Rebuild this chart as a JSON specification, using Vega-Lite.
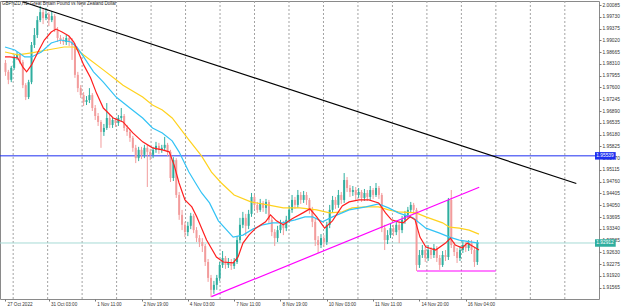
{
  "$schema": "https://vega.github.io/schema/vega-lite/v6.json",
  "width": 599,
  "height": 298,
  "autosize": {"type": "none"},
  "padding": {"left": 0, "top": 1, "right": 26, "bottom": 9},
  "background": "#ffffff",
  "config": {
    "view": {"stroke": "#8a8a8a", "strokeWidth": 1},
    "font": "Liberation Sans",
    "axis": {"labelOverlap": false, "labelSeparation": 0, "labelFlush": false}
  },
  "title": {
    "text": "GBPNZD,H1:  Great Britain Pound vs New Zealand Dollar",
    "anchor": "start",
    "frame": "group",
    "orient": "top",
    "offset": -6,
    "fontSize": 4.5,
    "fontWeight": "normal",
    "font": "Liberation Sans",
    "color": "#222222",
    "dx": 2
  },
  "datasets": {
    "grid": [
      {"t": 6.32}, {"t": 30.14}, {"t": 53.96}, {"t": 77.78}, {"t": 101.6}, {"t": 125.42},
      {"t": 149.24}, {"t": 173.06}, {"t": 196.88}, {"t": 220.7}, {"t": 244.52}, {"t": 268.34},
      {"t": 292.16}, {"t": 315.98}, {"t": 339.8}, {"t": 363.62}, {"t": 387.44}
    ],
    "levels": [
      {"p": 1.95539, "kind": "level", "lbl": "1.95539"},
      {"p": 1.92912, "kind": "bid", "lbl": "1.92912"}
    ],
    "candles": [
      {"t":1,"o":1.9834,"h":1.9843,"l":1.9795,"c":1.9807},
      {"t":3,"o":1.9807,"h":1.9813,"l":1.9770,"c":1.9783},
      {"t":5,"o":1.9783,"h":1.9825,"l":1.9776,"c":1.9819},
      {"t":7,"o":1.9819,"h":1.9858,"l":1.9813,"c":1.9849},
      {"t":9,"o":1.9849,"h":1.9867,"l":1.9843,"c":1.9858},
      {"t":11,"o":1.9858,"h":1.9864,"l":1.9831,"c":1.9837},
      {"t":13,"o":1.9837,"h":1.9843,"l":1.9758,"c":1.9767},
      {"t":15,"o":1.9767,"h":1.9773,"l":1.9722,"c":1.9731},
      {"t":17,"o":1.9731,"h":1.9783,"l":1.9725,"c":1.9776},
      {"t":19,"o":1.9776,"h":1.9897,"l":1.9770,"c":1.9888},
      {"t":21,"o":1.9888,"h":1.9939,"l":1.9879,"c":1.9918},
      {"t":23,"o":1.9918,"h":1.9975,"l":1.9909,"c":1.9963},
      {"t":25,"o":1.9963,"h":2.0006,"l":1.9957,"c":1.9987},
      {"t":27,"o":1.9987,"h":1.9997,"l":1.9951,"c":1.9969},
      {"t":29,"o":1.9969,"h":2.0000,"l":1.9963,"c":1.9981},
      {"t":31,"o":1.9981,"h":1.9987,"l":1.9945,"c":1.9963},
      {"t":33,"o":1.9963,"h":1.9990,"l":1.9957,"c":1.9975},
      {"t":35,"o":1.9975,"h":1.9981,"l":1.9927,"c":1.9933},
      {"t":37,"o":1.9933,"h":1.9942,"l":1.9897,"c":1.9909},
      {"t":39,"o":1.9909,"h":1.9918,"l":1.9891,"c":1.9903},
      {"t":41,"o":1.9903,"h":1.9912,"l":1.9888,"c":1.9897},
      {"t":43,"o":1.9897,"h":1.9918,"l":1.9888,"c":1.9909},
      {"t":45,"o":1.9909,"h":1.9915,"l":1.9885,"c":1.9897},
      {"t":47,"o":1.9897,"h":1.9909,"l":1.9843,"c":1.9888},
      {"t":49,"o":1.9888,"h":1.9894,"l":1.9789,"c":1.9798},
      {"t":51,"o":1.9798,"h":1.9807,"l":1.9746,"c":1.9758},
      {"t":53,"o":1.9758,"h":1.9767,"l":1.9728,"c":1.9737},
      {"t":55,"o":1.9737,"h":1.9746,"l":1.9704,"c":1.9716},
      {"t":57,"o":1.9716,"h":1.9734,"l":1.9707,"c":1.9722},
      {"t":59,"o":1.9722,"h":1.9758,"l":1.9713,"c":1.9737},
      {"t":61,"o":1.9737,"h":1.9743,"l":1.9689,"c":1.9698},
      {"t":63,"o":1.9698,"h":1.9707,"l":1.9662,"c":1.9674},
      {"t":65,"o":1.9674,"h":1.9683,"l":1.9644,"c":1.9656},
      {"t":67,"o":1.9656,"h":1.9662,"l":1.9578,"c":1.9626},
      {"t":69,"o":1.9626,"h":1.9650,"l":1.9614,"c":1.9638},
      {"t":71,"o":1.9638,"h":1.9713,"l":1.9632,"c":1.9668},
      {"t":73,"o":1.9668,"h":1.9677,"l":1.9638,"c":1.9647},
      {"t":75,"o":1.9647,"h":1.9671,"l":1.9638,"c":1.9662},
      {"t":77,"o":1.9662,"h":1.9668,"l":1.9641,"c":1.9653},
      {"t":79,"o":1.9653,"h":1.9677,"l":1.9644,"c":1.9668},
      {"t":81,"o":1.9668,"h":1.9698,"l":1.9659,"c":1.9674},
      {"t":83,"o":1.9674,"h":1.9680,"l":1.9629,"c":1.9638},
      {"t":85,"o":1.9638,"h":1.9647,"l":1.9614,"c":1.9626},
      {"t":87,"o":1.9626,"h":1.9635,"l":1.9596,"c":1.9608},
      {"t":89,"o":1.9608,"h":1.9614,"l":1.9566,"c":1.9578},
      {"t":91,"o":1.9578,"h":1.9587,"l":1.9532,"c":1.9547},
      {"t":93,"o":1.9547,"h":1.9581,"l":1.9538,"c":1.9572},
      {"t":95,"o":1.9572,"h":1.9581,"l":1.9544,"c":1.9557},
      {"t":97,"o":1.9557,"h":1.9587,"l":1.9547,"c":1.9578},
      {"t":99,"o":1.9578,"h":1.9587,"l":1.9460,"c":1.9566},
      {"t":101,"o":1.9566,"h":1.9575,"l":1.9541,"c":1.9557},
      {"t":103,"o":1.9557,"h":1.9581,"l":1.9547,"c":1.9572},
      {"t":105,"o":1.9572,"h":1.9596,"l":1.9563,"c":1.9584},
      {"t":107,"o":1.9584,"h":1.9593,"l":1.9560,"c":1.9572},
      {"t":109,"o":1.9572,"h":1.9587,"l":1.9563,"c":1.9578},
      {"t":111,"o":1.9578,"h":1.9611,"l":1.9569,"c":1.9587},
      {"t":113,"o":1.9587,"h":1.9593,"l":1.9553,"c":1.9566},
      {"t":115,"o":1.9566,"h":1.9572,"l":1.9475,"c":1.9487},
      {"t":117,"o":1.9487,"h":1.9550,"l":1.9478,"c":1.9541},
      {"t":119,"o":1.9541,"h":1.9547,"l":1.9427,"c":1.9436},
      {"t":121,"o":1.9436,"h":1.9445,"l":1.9361,"c":1.9376},
      {"t":123,"o":1.9376,"h":1.9391,"l":1.9330,"c":1.9346},
      {"t":125,"o":1.9346,"h":1.9355,"l":1.9309,"c":1.9324},
      {"t":127,"o":1.9324,"h":1.9355,"l":1.9312,"c":1.9343},
      {"t":129,"o":1.9343,"h":1.9382,"l":1.9333,"c":1.9373},
      {"t":131,"o":1.9373,"h":1.9379,"l":1.9321,"c":1.9330},
      {"t":133,"o":1.9330,"h":1.9339,"l":1.9294,"c":1.9306},
      {"t":135,"o":1.9306,"h":1.9315,"l":1.9279,"c":1.9294},
      {"t":137,"o":1.9294,"h":1.9306,"l":1.9264,"c":1.9282},
      {"t":139,"o":1.9282,"h":1.9288,"l":1.9222,"c":1.9234},
      {"t":141,"o":1.9234,"h":1.9243,"l":1.9174,"c":1.9186},
      {"t":143,"o":1.9186,"h":1.9195,"l":1.9128,"c":1.9150},
      {"t":145,"o":1.9150,"h":1.9177,"l":1.9138,"c":1.9165},
      {"t":147,"o":1.9165,"h":1.9195,"l":1.9150,"c":1.9186},
      {"t":149,"o":1.9186,"h":1.9234,"l":1.9177,"c":1.9225},
      {"t":151,"o":1.9225,"h":1.9267,"l":1.9216,"c":1.9246},
      {"t":153,"o":1.9246,"h":1.9252,"l":1.9213,"c":1.9225},
      {"t":155,"o":1.9225,"h":1.9246,"l":1.9216,"c":1.9234},
      {"t":157,"o":1.9234,"h":1.9243,"l":1.9210,"c":1.9222},
      {"t":159,"o":1.9222,"h":1.9246,"l":1.9213,"c":1.9234},
      {"t":161,"o":1.9234,"h":1.9312,"l":1.9228,"c":1.9300},
      {"t":163,"o":1.9300,"h":1.9367,"l":1.9291,"c":1.9346},
      {"t":165,"o":1.9346,"h":1.9385,"l":1.9336,"c":1.9367},
      {"t":167,"o":1.9367,"h":1.9379,"l":1.9312,"c":1.9343},
      {"t":169,"o":1.9343,"h":1.9391,"l":1.9333,"c":1.9379},
      {"t":171,"o":1.9379,"h":1.9442,"l":1.9370,"c":1.9430},
      {"t":173,"o":1.9430,"h":1.9436,"l":1.9394,"c":1.9406},
      {"t":175,"o":1.9406,"h":1.9415,"l":1.9382,"c":1.9391},
      {"t":177,"o":1.9391,"h":1.9424,"l":1.9385,"c":1.9412},
      {"t":179,"o":1.9412,"h":1.9418,"l":1.9385,"c":1.9397},
      {"t":181,"o":1.9397,"h":1.9424,"l":1.9379,"c":1.9415},
      {"t":183,"o":1.9415,"h":1.9421,"l":1.9349,"c":1.9361},
      {"t":185,"o":1.9361,"h":1.9370,"l":1.9312,"c":1.9324},
      {"t":187,"o":1.9324,"h":1.9333,"l":1.9282,"c":1.9306},
      {"t":189,"o":1.9306,"h":1.9343,"l":1.9294,"c":1.9330},
      {"t":191,"o":1.9330,"h":1.9361,"l":1.9321,"c":1.9346},
      {"t":193,"o":1.9346,"h":1.9358,"l":1.9315,"c":1.9336},
      {"t":195,"o":1.9336,"h":1.9373,"l":1.9327,"c":1.9361},
      {"t":197,"o":1.9361,"h":1.9403,"l":1.9352,"c":1.9391},
      {"t":199,"o":1.9391,"h":1.9436,"l":1.9382,"c":1.9421},
      {"t":201,"o":1.9421,"h":1.9430,"l":1.9394,"c":1.9406},
      {"t":203,"o":1.9406,"h":1.9451,"l":1.9397,"c":1.9436},
      {"t":205,"o":1.9436,"h":1.9445,"l":1.9409,"c":1.9421},
      {"t":207,"o":1.9421,"h":1.9448,"l":1.9412,"c":1.9436},
      {"t":209,"o":1.9436,"h":1.9445,"l":1.9406,"c":1.9421},
      {"t":211,"o":1.9421,"h":1.9427,"l":1.9379,"c":1.9391},
      {"t":213,"o":1.9391,"h":1.9400,"l":1.9339,"c":1.9355},
      {"t":215,"o":1.9355,"h":1.9364,"l":1.9282,"c":1.9300},
      {"t":217,"o":1.9300,"h":1.9312,"l":1.9261,"c":1.9285},
      {"t":219,"o":1.9285,"h":1.9318,"l":1.9276,"c":1.9306},
      {"t":221,"o":1.9306,"h":1.9315,"l":1.9279,"c":1.9294},
      {"t":223,"o":1.9294,"h":1.9355,"l":1.9285,"c":1.9346},
      {"t":225,"o":1.9346,"h":1.9406,"l":1.9336,"c":1.9391},
      {"t":227,"o":1.9391,"h":1.9433,"l":1.9382,"c":1.9421},
      {"t":229,"o":1.9421,"h":1.9430,"l":1.9394,"c":1.9406},
      {"t":231,"o":1.9406,"h":1.9451,"l":1.9397,"c":1.9436},
      {"t":233,"o":1.9436,"h":1.9445,"l":1.9409,"c":1.9421},
      {"t":235,"o":1.9421,"h":1.9502,"l":1.9412,"c":1.9481},
      {"t":237,"o":1.9481,"h":1.9490,"l":1.9445,"c":1.9457},
      {"t":239,"o":1.9457,"h":1.9466,"l":1.9430,"c":1.9445},
      {"t":241,"o":1.9445,"h":1.9463,"l":1.9433,"c":1.9451},
      {"t":243,"o":1.9451,"h":1.9460,"l":1.9421,"c":1.9436},
      {"t":245,"o":1.9436,"h":1.9457,"l":1.9427,"c":1.9445},
      {"t":247,"o":1.9445,"h":1.9451,"l":1.9415,"c":1.9427},
      {"t":249,"o":1.9427,"h":1.9454,"l":1.9418,"c":1.9442},
      {"t":251,"o":1.9442,"h":1.9451,"l":1.9418,"c":1.9430},
      {"t":253,"o":1.9430,"h":1.9463,"l":1.9421,"c":1.9451},
      {"t":255,"o":1.9451,"h":1.9457,"l":1.9424,"c":1.9436},
      {"t":257,"o":1.9436,"h":1.9472,"l":1.9430,"c":1.9457},
      {"t":259,"o":1.9457,"h":1.9463,"l":1.9424,"c":1.9436},
      {"t":261,"o":1.9436,"h":1.9442,"l":1.9324,"c":1.9336},
      {"t":263,"o":1.9336,"h":1.9346,"l":1.9270,"c":1.9300},
      {"t":265,"o":1.9300,"h":1.9330,"l":1.9288,"c":1.9315},
      {"t":267,"o":1.9315,"h":1.9349,"l":1.9306,"c":1.9336},
      {"t":269,"o":1.9336,"h":1.9346,"l":1.9312,"c":1.9324},
      {"t":271,"o":1.9324,"h":1.9358,"l":1.9315,"c":1.9346},
      {"t":273,"o":1.9346,"h":1.9355,"l":1.9291,"c":1.9330},
      {"t":275,"o":1.9330,"h":1.9373,"l":1.9321,"c":1.9361},
      {"t":277,"o":1.9361,"h":1.9388,"l":1.9349,"c":1.9376},
      {"t":279,"o":1.9376,"h":1.9400,"l":1.9367,"c":1.9391},
      {"t":281,"o":1.9391,"h":1.9415,"l":1.9382,"c":1.9406},
      {"t":283,"o":1.9406,"h":1.9412,"l":1.9379,"c":1.9391},
      {"t":285,"o":1.9391,"h":1.9397,"l":1.9207,"c":1.9225},
      {"t":287,"o":1.9225,"h":1.9270,"l":1.9216,"c":1.9255},
      {"t":289,"o":1.9255,"h":1.9285,"l":1.9246,"c":1.9270},
      {"t":291,"o":1.9270,"h":1.9279,"l":1.9234,"c":1.9246},
      {"t":293,"o":1.9246,"h":1.9285,"l":1.9237,"c":1.9270},
      {"t":295,"o":1.9270,"h":1.9279,"l":1.9243,"c":1.9255},
      {"t":297,"o":1.9255,"h":1.9288,"l":1.9246,"c":1.9276},
      {"t":299,"o":1.9276,"h":1.9282,"l":1.9234,"c":1.9246},
      {"t":301,"o":1.9246,"h":1.9255,"l":1.9210,"c":1.9225},
      {"t":303,"o":1.9225,"h":1.9267,"l":1.9219,"c":1.9255},
      {"t":305,"o":1.9255,"h":1.9270,"l":1.9237,"c":1.9249},
      {"t":307,"o":1.9249,"h":1.9427,"l":1.9240,"c":1.9421},
      {"t":309,"o":1.9421,"h":1.9451,"l":1.9276,"c":1.9285},
      {"t":311,"o":1.9285,"h":1.9294,"l":1.9252,"c":1.9264},
      {"t":313,"o":1.9264,"h":1.9276,"l":1.9231,"c":1.9246},
      {"t":315,"o":1.9246,"h":1.9282,"l":1.9237,"c":1.9270},
      {"t":317,"o":1.9270,"h":1.9297,"l":1.9261,"c":1.9285},
      {"t":319,"o":1.9285,"h":1.9294,"l":1.9264,"c":1.9276},
      {"t":321,"o":1.9276,"h":1.9300,"l":1.9267,"c":1.9291},
      {"t":323,"o":1.9291,"h":1.9300,"l":1.9258,"c":1.9270},
      {"t":325,"o":1.9270,"h":1.9279,"l":1.9219,"c":1.9234},
      {"t":327,"o":1.9234,"h":1.9300,"l":1.9225,"c":1.9291}
    ],
    "lines": [
      {"s":"slow","t":0.68,"v":1.9867},{"s":"slow","t":9.51,"v":1.9858},{"s":"slow","t":19.02,"v":1.9864},{"s":"slow","t":29.89,"v":1.9873},
      {"s":"slow","t":41.44,"v":1.9882},{"s":"slow","t":48.23,"v":1.9882},{"s":"slow","t":55.03,"v":1.9858},{"s":"slow","t":68.61,"v":1.9813},
      {"s":"slow","t":77.45,"v":1.9783},{"s":"slow","t":82.2,"v":1.9767},{"s":"slow","t":95.79,"v":1.9731},{"s":"slow","t":102.58,"v":1.9707},
      {"s":"slow","t":109.38,"v":1.9692},{"s":"slow","t":116.17,"v":1.9668},{"s":"slow","t":127.72,"v":1.9602},{"s":"slow","t":136.55,"v":1.9553},
      {"s":"slow","t":143.34,"v":1.9505},{"s":"slow","t":150.14,"v":1.9472},{"s":"slow","t":158.97,"v":1.9436},{"s":"slow","t":170.52,"v":1.9415},
      {"s":"slow","t":182.07,"v":1.9406},{"s":"slow","t":192.93,"v":1.9397},{"s":"slow","t":204.48,"v":1.9397},{"s":"slow","t":216.03,"v":1.9391},
      {"s":"slow","t":224.86,"v":1.9382},{"s":"slow","t":233.7,"v":1.9385},{"s":"slow","t":240.49,"v":1.9397},{"s":"slow","t":250.0,"v":1.9400},
      {"s":"slow","t":258.83,"v":1.9400},{"s":"slow","t":265.63,"v":1.9391},{"s":"slow","t":272.42,"v":1.9385},{"s":"slow","t":284.65,"v":1.9382},
      {"s":"slow","t":291.44,"v":1.9370},{"s":"slow","t":302.99,"v":1.9352},{"s":"slow","t":307.74,"v":1.9339},{"s":"slow","t":314.54,"v":1.9336},
      {"s":"slow","t":321.33,"v":1.9330},{"s":"slow","t":328.13,"v":1.9318},

      {"s":"mid","t":0.68,"v":1.9882},{"s":"mid","t":7.47,"v":1.9873},{"s":"mid","t":14.27,"v":1.9852},{"s":"mid","t":19.02,"v":1.9852},
      {"s":"mid","t":25.82,"v":1.9867},{"s":"mid","t":32.61,"v":1.9894},{"s":"mid","t":39.4,"v":1.9903},{"s":"mid","t":46.2,"v":1.9897},
      {"s":"mid","t":50.27,"v":1.9882},{"s":"mid","t":55.03,"v":1.9852},{"s":"mid","t":61.82,"v":1.9807},{"s":"mid","t":68.61,"v":1.9776},
      {"s":"mid","t":77.45,"v":1.9731},{"s":"mid","t":86.96,"v":1.9698},{"s":"mid","t":95.79,"v":1.9668},{"s":"mid","t":102.58,"v":1.9638},
      {"s":"mid","t":109.38,"v":1.9623},{"s":"mid","t":116.17,"v":1.9599},{"s":"mid","t":120.92,"v":1.9566},{"s":"mid","t":127.72,"v":1.9505},
      {"s":"mid","t":133.15,"v":1.9466},{"s":"mid","t":136.55,"v":1.9442},{"s":"mid","t":141.98,"v":1.9412},{"s":"mid","t":148.1,"v":1.9358},
      {"s":"mid","t":158.29,"v":1.9309},{"s":"mid","t":165.08,"v":1.9315},{"s":"mid","t":171.88,"v":1.9333},{"s":"mid","t":178.67,"v":1.9346},
      {"s":"mid","t":185.46,"v":1.9352},{"s":"mid","t":192.26,"v":1.9352},{"s":"mid","t":201.09,"v":1.9361},{"s":"mid","t":207.88,"v":1.9370},
      {"s":"mid","t":213.32,"v":1.9370},{"s":"mid","t":220.11,"v":1.9355},{"s":"mid","t":226.9,"v":1.9370},{"s":"mid","t":238.45,"v":1.9391},
      {"s":"mid","t":250.0,"v":1.9400},{"s":"mid","t":258.83,"v":1.9409},{"s":"mid","t":265.63,"v":1.9397},{"s":"mid","t":272.42,"v":1.9382},
      {"s":"mid","t":282.61,"v":1.9367},{"s":"mid","t":291.44,"v":1.9336},{"s":"mid","t":300.95,"v":1.9321},{"s":"mid","t":307.74,"v":1.9309},
      {"s":"mid","t":314.54,"v":1.9300},{"s":"mid","t":323.37,"v":1.9294},{"s":"mid","t":328.13,"v":1.9291},

      {"s":"fast","t":0.68,"v":1.9852},{"s":"fast","t":4.08,"v":1.9852},{"s":"fast","t":9.51,"v":1.9849},{"s":"fast","t":12.91,"v":1.9822},
      {"s":"fast","t":15.63,"v":1.9807},{"s":"fast","t":19.02,"v":1.9828},{"s":"fast","t":23.1,"v":1.9864},{"s":"fast","t":27.85,"v":1.9903},
      {"s":"fast","t":32.61,"v":1.9927},{"s":"fast","t":36.01,"v":1.9936},{"s":"fast","t":40.08,"v":1.9927},{"s":"fast","t":44.84,"v":1.9915},
      {"s":"fast","t":48.23,"v":1.9897},{"s":"fast","t":51.63,"v":1.9864},{"s":"fast","t":55.03,"v":1.9828},{"s":"fast","t":59.78,"v":1.9789},
      {"s":"fast","t":63.86,"v":1.9743},{"s":"fast","t":68.61,"v":1.9698},{"s":"fast","t":75.41,"v":1.9668},{"s":"fast","t":82.2,"v":1.9656},
      {"s":"fast","t":89.0,"v":1.9623},{"s":"fast","t":95.79,"v":1.9596},{"s":"fast","t":102.58,"v":1.9578},{"s":"fast","t":109.38,"v":1.9572},
      {"s":"fast","t":114.13,"v":1.9566},{"s":"fast","t":117.53,"v":1.9526},{"s":"fast","t":120.92,"v":1.9472},{"s":"fast","t":125.0,"v":1.9421},
      {"s":"fast","t":129.76,"v":1.9400},{"s":"fast","t":133.15,"v":1.9370},{"s":"fast","t":139.95,"v":1.9300},{"s":"fast","t":146.74,"v":1.9249},
      {"s":"fast","t":151.49,"v":1.9234},{"s":"fast","t":158.29,"v":1.9231},{"s":"fast","t":161.68,"v":1.9249},{"s":"fast","t":165.08,"v":1.9291},
      {"s":"fast","t":169.16,"v":1.9315},{"s":"fast","t":173.91,"v":1.9336},{"s":"fast","t":180.71,"v":1.9355},{"s":"fast","t":184.1,"v":1.9376},
      {"s":"fast","t":188.18,"v":1.9358},{"s":"fast","t":192.93,"v":1.9346},{"s":"fast","t":199.05,"v":1.9364},{"s":"fast","t":206.52,"v":1.9382},
      {"s":"fast","t":211.28,"v":1.9394},{"s":"fast","t":216.03,"v":1.9370},{"s":"fast","t":221.47,"v":1.9336},{"s":"fast","t":226.9,"v":1.9358},
      {"s":"fast","t":233.7,"v":1.9403},{"s":"fast","t":238.45,"v":1.9415},{"s":"fast","t":245.24,"v":1.9421},{"s":"fast","t":252.04,"v":1.9421},
      {"s":"fast","t":258.83,"v":1.9412},{"s":"fast","t":263.59,"v":1.9382},{"s":"fast","t":267.66,"v":1.9361},{"s":"fast","t":272.42,"v":1.9355},
      {"s":"fast","t":275.82,"v":1.9352},{"s":"fast","t":280.57,"v":1.9370},{"s":"fast","t":283.97,"v":1.9361},{"s":"fast","t":287.36,"v":1.9309},
      {"s":"fast","t":291.44,"v":1.9279},{"s":"fast","t":298.23,"v":1.9270},{"s":"fast","t":305.03,"v":1.9291},{"s":"fast","t":308.42,"v":1.9306},
      {"s":"fast","t":311.82,"v":1.9285},{"s":"fast","t":316.58,"v":1.9276},{"s":"fast","t":319.97,"v":1.9291},{"s":"fast","t":324.73,"v":1.9279},
      {"s":"fast","t":328.13,"v":1.9270},

      {"s":"trend","t":12.9,"v":2.00185},{"s":"trend","t":395.4,"v":1.94705},
      {"s":"support","t":143.3,"v":1.91294},{"s":"support","t":328.3,"v":1.94591},
      {"s":"floor","t":285.3,"v":1.92068},{"s":"floor","t":339.7,"v":1.92068}
    ]
  },
  "layer": [
    {
      "data": {"name": "grid"},
      "mark": {"type": "rule", "color": "#a3a3a3", "strokeDash": [2, 2], "strokeWidth": 1},
      "encoding": {
        "x": {
          "field": "t", "type": "quantitative", "title": null,
          "scale": {"domain": [0.68, 407.6], "nice": false, "zero": false},
          "axis": {
            "orient": "bottom",
            "values": [1, 31, 63, 95, 127, 159, 191, 223, 255, 287, 319],
            "labelExpr": "['27 Oct 2022','31 Oct 03:00','1 Nov 11:00','2 Nov 19:00','4 Nov 03:00','7 Nov 11:00','8 Nov 19:00','10 Nov 03:00','11 Nov 11:00','14 Nov 20:00','16 Nov 04:00'][indexof([1,31,63,95,127,159,191,223,255,287,319], datum.value)]",
            "labelFontSize": 4.6, "labelColor": "#333333", "labelFont": "Liberation Sans",
            "tickSize": 2, "tickColor": "#777777", "labelPadding": 0.5,
            "labelAlign": "left", "labelBaseline": "top", "labelOffset": 1.5,
            "domain": false, "grid": false, "labelFlush": false, "labelOverlap": false, "title": null
          }
        }
      }
    },
    {
      "data": {"name": "levels"},
      "mark": {"type": "rule", "strokeWidth": 1},
      "encoding": {
        "y": {
          "field": "p", "type": "quantitative", "title": null,
          "scale": {"domain": [1.91224, 2.00206], "nice": false, "zero": false},
          "axis": {
            "orient": "right",
            "values": [2.00085, 1.9973, 1.99375, 1.9902, 1.98665, 1.9831, 1.97955, 1.976, 1.97245, 1.9689, 1.96535, 1.9618, 1.95825, 1.9547, 1.95115, 1.9476, 1.94405, 1.9405, 1.93695, 1.9334, 1.92985, 1.9263, 1.92275, 1.9192, 1.91565],
            "format": ".5f",
            "labelFontSize": 4.8, "labelColor": "#333333", "labelFont": "Liberation Sans",
            "tickSize": 2, "tickColor": "#777777", "labelPadding": 1,
            "labelAlign": "left", "labelBaseline": "middle",
            "domain": false, "grid": false, "labelFlush": false, "labelOverlap": false, "labelSeparation": 0, "title": null
          }
        },
        "color": {"condition": {"test": "datum.kind == 'level'", "value": "#1e2ff0"}, "value": "#a6dbd5"}
      }
    },
    {
      "data": {"name": "candles"},
      "mark": {"type": "rule", "strokeWidth": 1},
      "encoding": {
        "x": {"field": "t", "type": "quantitative", "title": null,
          "axis": {
            "orient": "bottom",
            "values": [1, 31, 63, 95, 127, 159, 191, 223, 255, 287, 319],
            "labelExpr": "['27 Oct 2022','31 Oct 03:00','1 Nov 11:00','2 Nov 19:00','4 Nov 03:00','7 Nov 11:00','8 Nov 19:00','10 Nov 03:00','11 Nov 11:00','14 Nov 20:00','16 Nov 04:00'][indexof([1,31,63,95,127,159,191,223,255,287,319], datum.value)]",
            "labelFontSize": 4.6, "labelColor": "#333333", "labelFont": "Liberation Sans",
            "tickSize": 2, "tickColor": "#777777", "labelPadding": 0.5,
            "labelAlign": "left", "labelBaseline": "top", "labelOffset": 1.5,
            "domain": false, "grid": false, "labelFlush": false, "labelOverlap": false, "title": null
          }},
        "y": {"field": "l", "type": "quantitative", "title": null,
          "axis": {
            "orient": "right",
            "values": [2.00085, 1.9973, 1.99375, 1.9902, 1.98665, 1.9831, 1.97955, 1.976, 1.97245, 1.9689, 1.96535, 1.9618, 1.95825, 1.9547, 1.95115, 1.9476, 1.94405, 1.9405, 1.93695, 1.9334, 1.92985, 1.9263, 1.92275, 1.9192, 1.91565],
            "format": ".5f",
            "labelFontSize": 4.8, "labelColor": "#333333", "labelFont": "Liberation Sans",
            "tickSize": 2, "tickColor": "#777777", "labelPadding": 1,
            "labelAlign": "left", "labelBaseline": "middle",
            "domain": false, "grid": false, "labelFlush": false, "labelOverlap": false, "labelSeparation": 0, "title": null
          }},
        "y2": {"field": "h"},
        "color": {"condition": {"test": "datum.c >= datum.o", "value": "#2fae9f"}, "value": "#f29c9c"}
      }
    },
    {
      "data": {"name": "candles"},
      "mark": {"type": "bar", "width": 2},
      "encoding": {
        "x": {"field": "t", "type": "quantitative", "title": null,
          "axis": {
            "orient": "bottom",
            "values": [1, 31, 63, 95, 127, 159, 191, 223, 255, 287, 319],
            "labelExpr": "['27 Oct 2022','31 Oct 03:00','1 Nov 11:00','2 Nov 19:00','4 Nov 03:00','7 Nov 11:00','8 Nov 19:00','10 Nov 03:00','11 Nov 11:00','14 Nov 20:00','16 Nov 04:00'][indexof([1,31,63,95,127,159,191,223,255,287,319], datum.value)]",
            "labelFontSize": 4.6, "labelColor": "#333333", "labelFont": "Liberation Sans",
            "tickSize": 2, "tickColor": "#777777", "labelPadding": 0.5,
            "labelAlign": "left", "labelBaseline": "top", "labelOffset": 1.5,
            "domain": false, "grid": false, "labelFlush": false, "labelOverlap": false, "title": null
          }},
        "y": {"field": "o", "type": "quantitative", "title": null,
          "axis": {
            "orient": "right",
            "values": [2.00085, 1.9973, 1.99375, 1.9902, 1.98665, 1.9831, 1.97955, 1.976, 1.97245, 1.9689, 1.96535, 1.9618, 1.95825, 1.9547, 1.95115, 1.9476, 1.94405, 1.9405, 1.93695, 1.9334, 1.92985, 1.9263, 1.92275, 1.9192, 1.91565],
            "format": ".5f",
            "labelFontSize": 4.8, "labelColor": "#333333", "labelFont": "Liberation Sans",
            "tickSize": 2, "tickColor": "#777777", "labelPadding": 1,
            "labelAlign": "left", "labelBaseline": "middle",
            "domain": false, "grid": false, "labelFlush": false, "labelOverlap": false, "labelSeparation": 0, "title": null
          }},
        "y2": {"field": "c"},
        "color": {"condition": {"test": "datum.c >= datum.o", "value": "#2fae9f"}, "value": "#f29c9c"}
      }
    },
    {
      "data": {"name": "lines"},
      "mark": {"type": "line", "strokeWidth": 1.2},
      "encoding": {
        "x": {"field": "t", "type": "quantitative", "title": null,
          "axis": {
            "orient": "bottom",
            "values": [1, 31, 63, 95, 127, 159, 191, 223, 255, 287, 319],
            "labelExpr": "['27 Oct 2022','31 Oct 03:00','1 Nov 11:00','2 Nov 19:00','4 Nov 03:00','7 Nov 11:00','8 Nov 19:00','10 Nov 03:00','11 Nov 11:00','14 Nov 20:00','16 Nov 04:00'][indexof([1,31,63,95,127,159,191,223,255,287,319], datum.value)]",
            "labelFontSize": 4.6, "labelColor": "#333333", "labelFont": "Liberation Sans",
            "tickSize": 2, "tickColor": "#777777", "labelPadding": 0.5,
            "labelAlign": "left", "labelBaseline": "top", "labelOffset": 1.5,
            "domain": false, "grid": false, "labelFlush": false, "labelOverlap": false, "title": null
          }},
        "y": {"field": "v", "type": "quantitative", "title": null,
          "axis": {
            "orient": "right",
            "values": [2.00085, 1.9973, 1.99375, 1.9902, 1.98665, 1.9831, 1.97955, 1.976, 1.97245, 1.9689, 1.96535, 1.9618, 1.95825, 1.9547, 1.95115, 1.9476, 1.94405, 1.9405, 1.93695, 1.9334, 1.92985, 1.9263, 1.92275, 1.9192, 1.91565],
            "format": ".5f",
            "labelFontSize": 4.8, "labelColor": "#333333", "labelFont": "Liberation Sans",
            "tickSize": 2, "tickColor": "#777777", "labelPadding": 1,
            "labelAlign": "left", "labelBaseline": "middle",
            "domain": false, "grid": false, "labelFlush": false, "labelOverlap": false, "labelSeparation": 0, "title": null
          }},
        "color": {
          "field": "s", "type": "nominal", "legend": null,
          "scale": {"domain": ["slow", "mid", "fast", "trend", "support", "floor"], "range": ["#ffd21e", "#33c3f5", "#ff1f1f", "#000000", "#ff00ff", "#ff00ff"]}
        }
      }
    },
    {
      "data": {"name": "levels"},
      "mark": {"type": "rule", "strokeWidth": 7.5, "strokeCap": "butt"},
      "encoding": {
        "x": {"datum": 408.3},
        "x2": {"datum": 422.6},
        "y": {"field": "p", "type": "quantitative", "title": null,
          "axis": {
            "orient": "right",
            "values": [2.00085, 1.9973, 1.99375, 1.9902, 1.98665, 1.9831, 1.97955, 1.976, 1.97245, 1.9689, 1.96535, 1.9618, 1.95825, 1.9547, 1.95115, 1.9476, 1.94405, 1.9405, 1.93695, 1.9334, 1.92985, 1.9263, 1.92275, 1.9192, 1.91565],
            "format": ".5f",
            "labelFontSize": 4.8, "labelColor": "#333333", "labelFont": "Liberation Sans",
            "tickSize": 2, "tickColor": "#777777", "labelPadding": 1,
            "labelAlign": "left", "labelBaseline": "middle",
            "domain": false, "grid": false, "labelFlush": false, "labelOverlap": false, "labelSeparation": 0, "title": null
          }},
        "color": {"condition": {"test": "datum.kind == 'level'", "value": "#1e2ff0"}, "value": "#2fae9f"}
      }
    },
    {
      "data": {"name": "levels"},
      "mark": {"type": "text", "align": "left", "baseline": "middle", "fontSize": 4.8, "color": "#ffffff", "font": "Liberation Sans"},
      "encoding": {
        "x": {"datum": 409.2},
        "y": {"field": "p", "type": "quantitative", "title": null,
          "axis": {
            "orient": "right",
            "values": [2.00085, 1.9973, 1.99375, 1.9902, 1.98665, 1.9831, 1.97955, 1.976, 1.97245, 1.9689, 1.96535, 1.9618, 1.95825, 1.9547, 1.95115, 1.9476, 1.94405, 1.9405, 1.93695, 1.9334, 1.92985, 1.9263, 1.92275, 1.9192, 1.91565],
            "format": ".5f",
            "labelFontSize": 4.8, "labelColor": "#333333", "labelFont": "Liberation Sans",
            "tickSize": 2, "tickColor": "#777777", "labelPadding": 1,
            "labelAlign": "left", "labelBaseline": "middle",
            "domain": false, "grid": false, "labelFlush": false, "labelOverlap": false, "labelSeparation": 0, "title": null
          }},
        "text": {"field": "lbl"}
      }
    }
  ]
}
